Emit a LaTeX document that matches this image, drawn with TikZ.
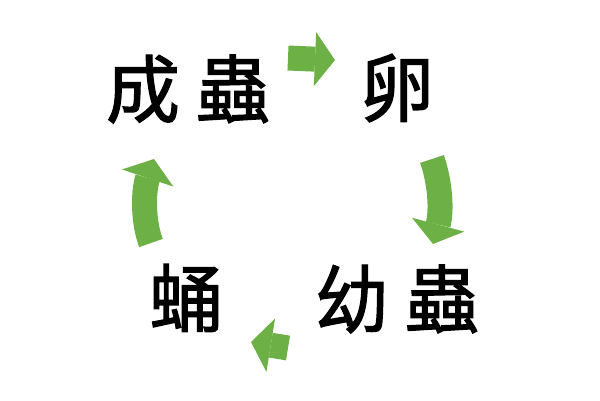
\documentclass[tikz,border=0pt]{standalone}
\usepackage{fontspec}
\newfontfamily\cjk[FakeBold=1.6]{Noto Sans CJK TC}
\usetikzlibrary{arrows.meta}
\definecolor{arrowgreen}{RGB}{108,176,70}
\tikzset{
  stage/.style={font=\cjk\fontsize{74}{74}\selectfont, inner sep=0pt, text=black},
  cyclearrow/.style={draw=arrowgreen, line width=25pt,
    -{Triangle[length=20pt, width=54pt, round=false, line width=0pt]}}
}
\begin{document}
\begin{tikzpicture}[x=1pt, y=-1pt]
\useasboundingbox (0,0) rectangle (600,400);
\node[stage] (adult) at (188,89) {成\hspace{16pt}蟲};
\node[stage] (egg) at (397,88) {卵};
\node[stage] (larva) at (397,299) {幼\hspace{16pt}蟲};
\node[stage] (pupa) at (186,298) {蛹};
% arrow end points
\coordinate (a1s) at (288,58);
\coordinate (a1e) at (335,60);
\coordinate (a2s) at (432,159);
\coordinate (a2e) at (433,244);
\coordinate (a3s) at (288,348);
\coordinate (a3e) at (251,342);
\coordinate (a4s) at (151,243);
\coordinate (a4e) at (154,159);
\draw[cyclearrow] (a1s) -- (a1e);
\draw[cyclearrow] (a2s) .. controls (440,182) and (442,210) .. (a2e);
\draw[cyclearrow] (a3s) -- (a3e);
\draw[cyclearrow] (a4s) .. controls (143,222) and (143,192) .. (a4e);
\end{tikzpicture}
\end{document}
